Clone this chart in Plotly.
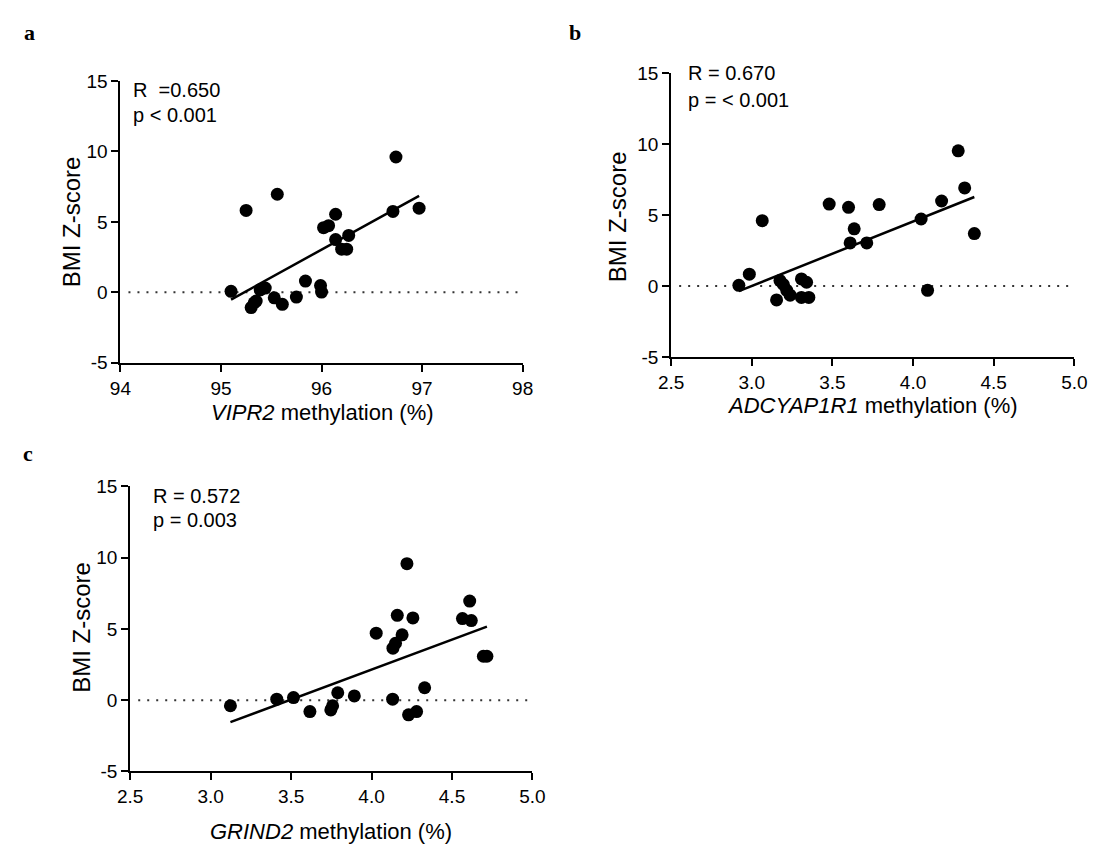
import numpy as np
import plotly.graph_objects as go

W, H = 1102, 853

# ---------------- data ----------------
a_x = [95.10, 95.25, 95.56, 95.30, 95.33, 95.35, 95.39, 95.44, 95.53, 95.61, 95.75, 95.84,
       95.99, 96.00, 96.02, 96.07, 96.14, 96.14, 96.20, 96.25, 96.27, 96.71, 96.74, 96.97]
a_y = [0.07, 5.81, 6.96, -1.08, -0.74, -0.62, 0.18, 0.30, -0.39, -0.85, -0.34, 0.80,
       0.48, 0.02, 4.59, 4.73, 5.54, 3.74, 3.06, 3.06, 4.04, 5.74, 9.60, 5.97]

b_x = [2.92, 2.985, 3.065, 3.154, 3.175, 3.196, 3.217, 3.238, 3.308, 3.34, 3.308, 3.354,
       3.48, 3.60, 3.61, 3.635, 3.713, 3.79, 4.05, 4.09, 4.177, 4.28, 4.32, 4.38]
b_y = [0.05, 0.84, 4.61, -0.98, 0.39, 0.11, -0.30, -0.64, 0.50, 0.27, -0.80, -0.80,
       5.78, 5.55, 3.04, 4.04, 3.04, 5.75, 4.73, -0.30, 6.00, 9.54, 6.92, 3.70]

c_x = [3.123, 3.411, 3.515, 3.617, 3.747, 3.758, 3.79, 3.893, 4.029, 4.131, 4.133, 4.149,
       4.16, 4.19, 4.22, 4.23, 4.257, 4.28, 4.33, 4.565, 4.61, 4.62, 4.695, 4.717]
c_y = [-0.39, 0.07, 0.18, -0.80, -0.68, -0.39, 0.52, 0.30, 4.70, 0.07, 3.65, 3.99,
       5.95, 4.58, 9.57, -1.03, 5.77, -0.80, 0.87, 5.72, 6.95, 5.58, 3.08, 3.08]

panel_letters = ["a", "b", "c"]
x_titles = ["<i>VIPR2</i> methylation (%)", "<i>ADCYAP1R1</i> methylation (%)",
            "<i>GRIND2</i> methylation (%)"]
y_title = "BMI Z-score"
stats = [["R  =0.650", "p < 0.001"], ["R = 0.670", "p = < 0.001"], ["R = 0.572", "p = 0.003"]]

x_tickvals_a = [94, 95, 96, 97, 98]
x_ticktext_a = ["94", "95", "96", "97", "98"]
x_tickvals_bc = [2.5, 3.0, 3.5, 4.0, 4.5, 5.0]
x_ticktext_bc = ["2.5", "3.0", "3.5", "4.0", "4.5", "5.0"]
y_tickvals = [-5, 0, 5, 10, 15]
y_ticktext = ["-5", "0", "5", "10", "15"]

x_ranges = [[94, 98], [2.5, 5.0], [2.5, 5.0]]
x_ticks = [(x_tickvals_a, x_ticktext_a), (x_tickvals_bc, x_ticktext_bc),
           (x_tickvals_bc, x_ticktext_bc)]
y_range = [-5, 15]

# ---------------- layout geometry (pixels) ----------------
boxes = [  # left, right, top, bottom
    (110, 522, 72.7, 361.7),
    (674, 1087, 65.0, 355.7),
    (120, 532, 488.3, 780.7),
]
letter_pos = [(17, 23), (576, 23), (15, 455)]
stat_pos = [(121, 82, 108), (689, 65, 92), (141, 498, 523)]
xtitle_pos = [(317, 413), (880, 405), (326, 842)]
ytitle_pos = [(60, 217), (619, 212), (70, 633)]

def px(x):
    return x / W

def py(y):
    return 1 - y / H

FONT = "Arial, Liberation Sans, sans-serif"

fig = go.Figure()
datasets = [(a_x, a_y), (b_x, b_y), (c_x, c_y)]
annotations = []
shapes = []

for i, ((xs, ys), (l, r, t, b)) in enumerate(zip(datasets, boxes)):
    n = "" if i == 0 else str(i + 1)
    xa, ya = "x" + n, "y" + n
    xs_arr = np.array(xs)
    ys_arr = np.array(ys)
    slope, inter = np.polyfit(xs_arr, ys_arr, 1)
    fx = np.array([xs_arr.min(), xs_arr.max()])
    fy = slope * fx + inter

    fig.add_trace(go.Scatter(x=fx, y=fy, mode="lines", xaxis=xa, yaxis=ya,
                             line=dict(color="black", width=2.5), showlegend=False,
                             hoverinfo="skip"))
    fig.add_trace(go.Scatter(x=xs, y=ys, mode="markers", xaxis=xa, yaxis=ya,
                             marker=dict(color="black", size=13, line=dict(width=0)),
                             showlegend=False, cliponaxis=False))
    shapes.append(dict(type="line", xref=xa + " domain", yref=ya, x0=0.02, x1=1.0,
                       y0=0, y1=0, line=dict(color="#333333", width=2, dash="2px,7px"),
                       layer="below"))

    axis_common = dict(showline=True, linecolor="black", linewidth=2, ticks="outside",
                       ticklen=7, tickwidth=2, tickcolor="black", showgrid=False,
                       zeroline=False, tickfont=dict(family=FONT, size=19, color="black"),
                       fixedrange=True)
    tv, tt = x_ticks[i]
    fig.update_layout(**{
        "xaxis" + n: dict(domain=[px(l), px(r)], range=x_ranges[i], anchor=ya,
                          tickmode="array", tickvals=tv, ticktext=tt, **axis_common),
        "yaxis" + n: dict(domain=[py(b), py(t)], range=y_range, anchor=xa,
                          tickmode="array", tickvals=y_tickvals, ticktext=y_ticktext,
                          **axis_common),
    })

    lx, ly = letter_pos[i]
    annotations.append(dict(text="<b>" + panel_letters[i] + "</b>", x=px(lx), y=py(ly),
                            xref="paper", yref="paper", xanchor="center", yanchor="middle",
                            showarrow=False,
                            font=dict(family="Liberation Serif, Times New Roman, serif",
                                      size=22, color="black")))
    sx, sy1, sy2 = stat_pos[i]
    for txt, yy in zip(stats[i], (sy1, sy2)):
        annotations.append(dict(text=txt, x=px(sx), y=py(yy), xref="paper", yref="paper",
                                xanchor="left", yanchor="middle", showarrow=False,
                                font=dict(family=FONT, size=20, color="black")))
    tx, ty = xtitle_pos[i]
    annotations.append(dict(text=x_titles[i], x=px(tx), y=py(ty), xref="paper",
                            yref="paper", xanchor="center", yanchor="middle",
                            showarrow=False, font=dict(family=FONT, size=22, color="black")))
    yx, yy = ytitle_pos[i]
    annotations.append(dict(text=y_title, x=px(yx), y=py(yy), xref="paper", yref="paper",
                            xanchor="center", yanchor="middle", textangle=-90,
                            showarrow=False, font=dict(family=FONT, size=24, color="black")))

fig.update_layout(width=W, height=H, margin=dict(l=0, r=0, t=0, b=0),
                  paper_bgcolor="white", plot_bgcolor="white",
                  annotations=annotations, shapes=shapes, showlegend=False)

fig.write_html("out.html", config={"displayModeBar": False},
               post_script="document.body.style.margin='0px';document.body.style.overflow='hidden';")
